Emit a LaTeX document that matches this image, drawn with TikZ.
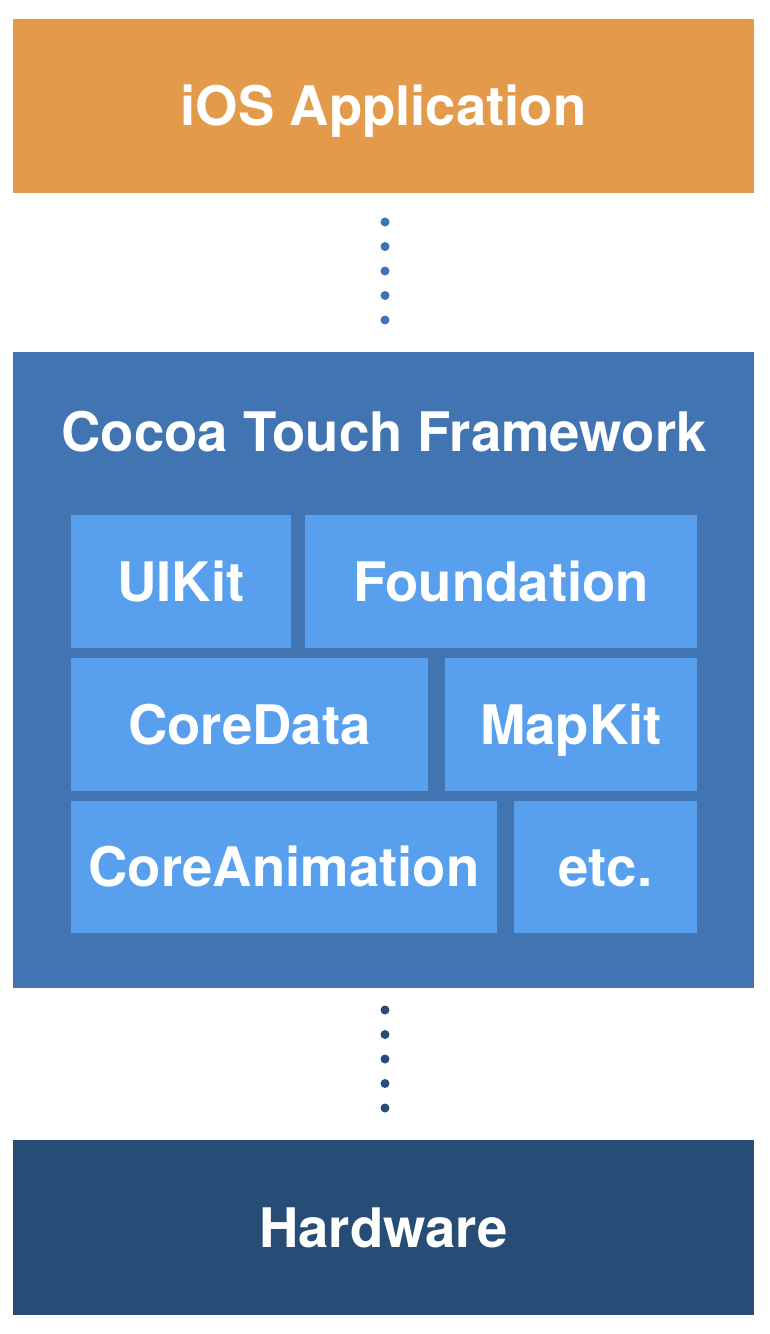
\documentclass[tikz,border=0pt]{standalone}
\usepackage{fontspec}
\setmainfont{TeX Gyre Heros}
\begin{document}
\begin{tikzpicture}[x=1pt,y=-1pt,
  blk/.style={draw=none, inner sep=0pt, outer sep=0pt, text=white,
    font=\bfseries\fontsize{54.5}{60}\selectfont, text height=39pt, text depth=0pt},
  inner/.style={blk, fill=innerblue},
  dotline/.style={line width=9pt, line cap=round, dash pattern=on 0pt off 24.5pt}]
\definecolor{apporange}{HTML}{E49A4B}
\definecolor{cocoablue}{HTML}{4174B0}
\definecolor{innerblue}{HTML}{58A0EE}
\definecolor{hwblue}{HTML}{274D76}
\definecolor{dotblue}{HTML}{3E74B4}
\useasboundingbox (0,0) rectangle (770,1334);
% outer blocks
\node[blk, fill=apporange, minimum width=741pt, minimum height=174pt] (app) at (383.5,106) {iOS Application};
\node[blk, fill=cocoablue, minimum width=741pt, minimum height=636pt] (cocoa) at (383.5,670) {};
\node[blk, anchor=center] (ctitle) at (384,432) {Cocoa Touch Framework};
\node[blk, fill=hwblue, minimum width=741pt, minimum height=175pt] (hw) at (383.5,1227.5) {Hardware};
% inner blocks
\node[inner, minimum width=220pt, minimum height=133pt] (uikit) at (181,581.5) {UIKit};
\node[inner, minimum width=392pt, minimum height=133pt] (found) at (501,581.5) {Foundation};
\node[inner, minimum width=357pt, minimum height=133pt] (cdata) at (249.5,724.5) {CoreData};
\node[inner, minimum width=252pt, minimum height=133pt] (mapkit) at (571,724.5) {MapKit};
\node[inner, minimum width=426pt, minimum height=132pt] (canim) at (284,867) {CoreAnimation};
\node[inner, minimum width=183pt, minimum height=132pt] (etc) at (605.5,867) {etc.};
% dotted connectors
\coordinate (d1a) at (385,222);
\coordinate (d1b) at (385,321);
\coordinate (d2a) at (385,1010);
\coordinate (d2b) at (385,1109);
\draw[dotline, draw=dotblue] (d1a) -- (d1b);
\draw[dotline, draw=hwblue] (d2a) -- (d2b);
\end{tikzpicture}
\end{document}
